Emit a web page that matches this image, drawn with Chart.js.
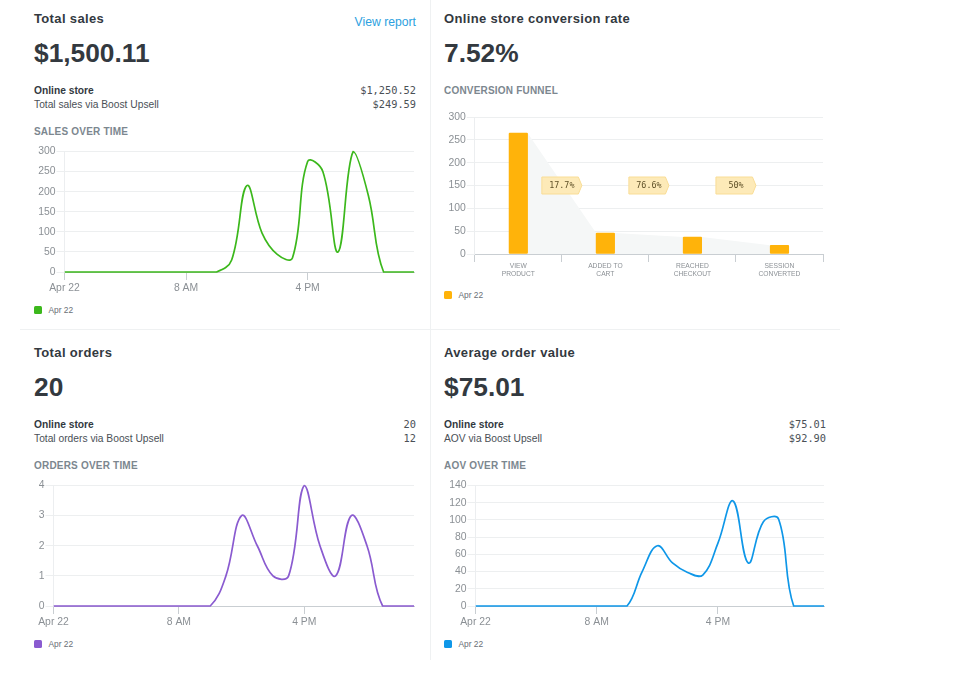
<!DOCTYPE html>
<html>
<head>
<meta charset="utf-8">
<script src="https://cdn.jsdelivr.net/npm/chart.js@4"></script>
<style>
    html, body { margin: 0; padding: 0; background: #fff; }
    body { width: 957px; height: 686px; position: relative; overflow: hidden; font-family: "Liberation Sans", sans-serif; color: #3a4046; }
    .abs { position: absolute; white-space: nowrap; line-height: 1; }
    .title { font-size: 13px; font-weight: bold; letter-spacing: 0.35px; color: #33393f; }
    .big { font-size: 26.3px; font-weight: bold; color: #33393f; }
    .link { font-size: 12.2px; color: #2d9fe0; }
    .row { font-size: 10.25px; color: #4a5056; }
    .row.head { font-weight: bold; color: #33393f; }
    .num { font-family: "DejaVu Sans Mono", monospace; font-size: 10.3px; color: #4a5056; text-align: right; }
    .section { font-size: 10px; font-weight: bold; letter-spacing: 0.2px; color: #7c878f; }
    .legend { font-size: 8.4px; color: #6a7076; }
    .swatch { position: absolute; width: 8px; height: 8px; border-radius: 1.5px; }
    .divider { position: absolute; background: #eff1f2; }
    .box { position: absolute; }
</style>
</head>
<body>
<div class="divider" style="left:20px; top:329px; width:820px; height:1px"></div>
<div class="divider" style="left:430px; top:0; width:1px; height:660px"></div>

<div class="abs title" style="left:34px; top:12px">Total sales</div>
<div class="abs link" style="right:541px; top:16px">View report</div>
<div class="abs big" style="left:34px; top:40px">$1,500.11</div>
<div class="abs row head" style="left:34px; top:86px">Online store</div>
<div class="abs row" style="left:34px; top:100px">Total sales via Boost Upsell</div>
<div class="abs num" style="right:541px; top:85px">$1,250.52</div>
<div class="abs num" style="right:541px; top:99px">$249.59</div>
<div class="abs section" style="left:34px; top:127px">SALES OVER TIME</div>
<div class="box" style="left:34px; top:143px; width:384px; height:151px"><canvas id="salesChart"></canvas></div>
<div class="swatch" style="left:34px; top:306px; background:#3cb81c"></div>
<div class="abs legend" style="left:48.5px; top:306px">Apr 22</div>

<div class="abs title" style="left:444px; top:12px">Online store conversion rate</div>
<div class="abs big" style="left:444px; top:40px">7.52%</div>
<div class="abs section" style="left:444px; top:86px">CONVERSION FUNNEL</div>
<div class="box" style="left:434px; top:109px; width:394px; height:175px"><canvas id="funnelChart"></canvas></div>
<div class="swatch" style="left:444px; top:291px; background:#ffb30a"></div>
<div class="abs legend" style="left:458.5px; top:291px">Apr 22</div>

<div class="abs title" style="left:34px; top:346px">Total orders</div>
<div class="abs big" style="left:34px; top:374px">20</div>
<div class="abs row head" style="left:34px; top:420px">Online store</div>
<div class="abs row" style="left:34px; top:434px">Total orders via Boost Upsell</div>
<div class="abs num" style="right:541px; top:419px">20</div>
<div class="abs num" style="right:541px; top:433px">12</div>
<div class="abs section" style="left:34px; top:461px">ORDERS OVER TIME</div>
<div class="box" style="left:34px; top:477px; width:384px; height:151px"><canvas id="ordersChart"></canvas></div>
<div class="swatch" style="left:34px; top:640px; background:#8a5bd0"></div>
<div class="abs legend" style="left:48.5px; top:640px">Apr 22</div>

<div class="abs title" style="left:444px; top:346px">Average order value</div>
<div class="abs big" style="left:444px; top:374px">$75.01</div>
<div class="abs row head" style="left:444px; top:420px">Online store</div>
<div class="abs row" style="left:444px; top:434px">AOV via Boost Upsell</div>
<div class="abs num" style="right:131px; top:419px">$75.01</div>
<div class="abs num" style="right:131px; top:433px">$92.90</div>
<div class="abs section" style="left:444px; top:461px">AOV OVER TIME</div>
<div class="box" style="left:444px; top:477px; width:384px; height:151px"><canvas id="aovChart"></canvas></div>
<div class="swatch" style="left:444px; top:640px; background:#0f97e8"></div>
<div class="abs legend" style="left:458.5px; top:640px">Apr 22</div>

<script>
// hourly axis, only three of the hours carry a label
const hourTicks = ['Apr 22', '', '', '', '', '', '', '', '8 AM', '', '', '', '', '', '', '', '4 PM', '', '', '', '', '', '', ''];
const salesValues = [0, 0, 0, 0, 0, 0, 0, 0, 0, 0, 0, 30, 215, 97, 44, 35, 275, 250, 50, 300, 190, 0, 0, 0];
const ordersValues = [0, 0, 0, 0, 0, 0, 0, 0, 0, 0, 0, 1, 3, 2, 1, 1, 4, 2, 1, 3, 2, 0, 0, 0];
const aovValues = [0, 0, 0, 0, 0, 0, 0, 0, 0, 0, 0, 40, 70, 50, 39, 36, 73, 122, 50, 98, 101, 0, 0, 0];

const funnelSteps = [['VIEW', 'PRODUCT'], ['ADDED TO', 'CART'], ['REACHED', 'CHECKOUT'], ['SESSION', 'CONVERTED']];
const funnelValues = [265, 46, 37, 19];
const funnelRates = ['17.7%', '76.6%', '50%'];

const GRID = '#edeff0';
const AXIS = '#c9ced2';
const TICK = '#8b9095';
const TICK_FONT = { family: 'Liberation Sans', size: 10.4 };

const yAxis = (max, stepSize, width) => ({
    min: 0,
    max: max,
    ticks: { stepSize: stepSize, color: TICK, font: TICK_FONT, padding: 1 },
    grid: { color: GRID, tickLength: 8 },
    border: { color: '#eceef0' },
    afterFit: scale => { scale.width = width; }
});

// Helper for the three hourly line charts
const createLine = (id, values, color, max, stepSize, yWidth) => {
    new Chart(document.getElementById(id), {
        type: 'line',
        data: {
            labels: hourTicks,
            datasets: [{
                data: values,
                borderColor: color,
                borderWidth: 1.7,
                pointRadius: 0,
                tension: 0.4,
                clip: { left: 0, right: 0, top: 2, bottom: 1 }
            }]
        },
        options: {
            responsive: true,
            maintainAspectRatio: false,
            animation: false,
            layout: { padding: { top: 8.5, right: 4 } },
            plugins: { legend: { display: false }, tooltip: { enabled: false } },
            scales: {
                x: {
                    ticks: { autoSkip: false, maxRotation: 0, color: TICK, font: TICK_FONT, padding: 2 },
                    grid: {
                        drawOnChartArea: false,
                        tickLength: 8,
                        tickColor: ctx => (ctx.tick && ctx.tick.label ? AXIS : 'transparent')
                    },
                    border: { color: AXIS },
                    afterFit: scale => { scale.height = 22; }
                },
                y: yAxis(max, stepSize, yWidth)
            }
        }
    });
};

createLine('salesChart', salesValues, '#3cb81c', 300, 50, 30.5);
createLine('ordersChart', ordersValues, '#8a5bd0', 4, 1, 19.5);
createLine('aovChart', aovValues, '#0f97e8', 140, 20, 31.5);

// Gray funnel shape behind the bars, taken from the bar elements
const funnelShape = {
    id: 'funnelShape',
    beforeDatasetsDraw(chart) {
        const bars = chart.getDatasetMeta(0).data;
        const base = chart.scales.y.getPixelForValue(0);
        const c = chart.ctx;
        c.save();
        c.fillStyle = '#f5f7f7';
        c.beginPath();
        c.moveTo(bars[0].x + bars[0].width / 2, base);
        bars.forEach((b, i) => {
            if (i > 0) c.lineTo(b.x - b.width / 2, b.y);
            if (i < bars.length - 1) c.lineTo(b.x + b.width / 2, b.y);
        });
        c.lineTo(bars[bars.length - 1].x - bars[bars.length - 1].width / 2, base);
        c.closePath();
        c.fill();
        c.restore();
    }
};

// Rate tags between the bars
const funnelTags = {
    id: 'funnelTags',
    afterDatasetsDraw(chart) {
        const bars = chart.getDatasetMeta(0).data;
        const y = chart.scales.y.getPixelForValue(150);
        const c = chart.ctx;
        c.save();
        funnelRates.forEach((rate, i) => {
            const mid = (bars[i].x + bars[i + 1].x) / 2;
            const left = mid - 20, right = mid + 20;
            c.beginPath();
            c.moveTo(left, y - 8.5);
            c.lineTo(right - 3.5, y - 8.5);
            c.lineTo(right, y);
            c.lineTo(right - 3.5, y + 8.5);
            c.lineTo(left, y + 8.5);
            c.closePath();
            c.fillStyle = '#fdeab8';
            c.strokeStyle = '#f9dd96';
            c.lineWidth = 1;
            c.fill();
            c.stroke();
            c.fillStyle = '#5f5128';
            c.font = '8.4px "DejaVu Sans Mono"';
            c.textAlign = 'center';
            c.textBaseline = 'middle';
            c.fillText(rate, mid, y + 0.5);
        });
        c.restore();
    }
};

new Chart(document.getElementById('funnelChart'), {
    type: 'bar',
    data: {
        labels: funnelSteps,
        datasets: [{
            data: funnelValues,
            backgroundColor: '#ffb30a',
            barThickness: 18.5,
            borderRadius: 1,
            borderSkipped: false
        }]
    },
    options: {
        responsive: true,
        maintainAspectRatio: false,
        animation: false,
        layout: { padding: { top: 8, right: 5 } },
        plugins: { legend: { display: false }, tooltip: { enabled: false } },
        scales: {
            x: {
                ticks: { autoSkip: false, maxRotation: 0, color: TICK, font: { family: 'Liberation Sans', size: 6.7 }, padding: 0 },
                grid: { drawOnChartArea: false, offset: true, tickLength: 8, color: AXIS },
                border: { color: AXIS },
                afterFit: scale => { scale.height = 30; }
            },
            y: yAxis(300, 50, 40.8)
        }
    },
    plugins: [funnelShape, funnelTags]
});
</script>
</body>
</html>
